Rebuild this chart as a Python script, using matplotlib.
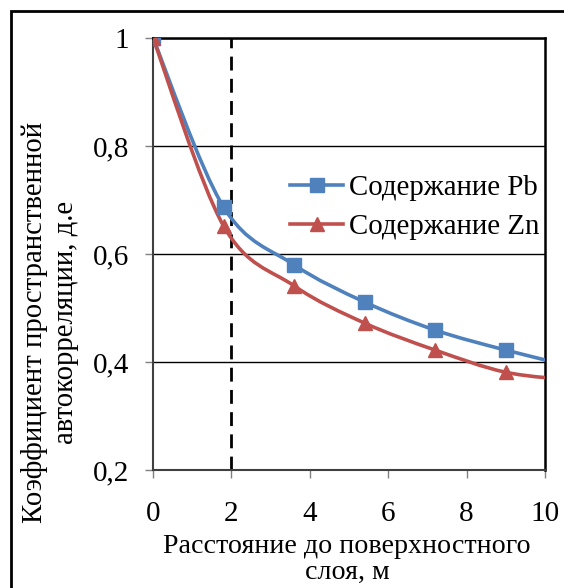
import matplotlib
matplotlib.use("Agg")
import matplotlib.pyplot as plt
from matplotlib.path import Path
from matplotlib.patches import PathPatch, Rectangle
from matplotlib.lines import Line2D
import numpy as np

plt.rcParams['font.family'] = ['Liberation Serif', 'DejaVu Serif']

# Data
distance = [0, 1.8, 3.6, 5.4, 7.2, 9.0, 10.8]
pb_values = [1.0, 0.687, 0.580, 0.511, 0.459, 0.422, 0.390]
zn_values = [1.0, 0.652, 0.541, 0.472, 0.422, 0.381, 0.366]
series_labels = ['Содержание Pb', 'Содержание Zn']
x_ticks = [0, 2, 4, 6, 8, 10]
y_ticks = [0.2, 0.4, 0.6, 0.8, 1.0]
y_tick_labels = ['0,2', '0,4', '0,6', '0,8', '1']
x_label = 'Расстояние до поверхностного\nслоя, м'
y_label = 'Коэффициент пространственной\nавтокорреляции, д.е'
dashed_x = 2

blue = '#4F81BD'
red = '#C0504D'

W, H = 564, 588
fig = plt.figure(figsize=(W / 100, H / 100), dpi=100)
# outer border
fig.patches.append(Rectangle((11 / W, -0.1), 1.2, 1 - 11 / H + 0.1,
                             transform=fig.transFigure, fill=False,
                             edgecolor='black', linewidth=2))

ax = fig.add_axes([153 / W, 1 - 470 / H, (545 - 153) / W, (470 - 38) / H])


def smooth_path(xs, ys):
    pts = np.column_stack([xs, ys]).astype(float)
    verts = [pts[0]]
    codes = [Path.MOVETO]
    n = len(pts)
    for i in range(n - 1):
        p0 = pts[i - 1] if i > 0 else pts[i]
        p1 = pts[i]
        p2 = pts[i + 1]
        p3 = pts[i + 2] if i + 2 < n else pts[i + 1]
        c1 = p1 + (p2 - p0) / 6.0
        c2 = p2 - (p3 - p1) / 6.0
        verts += [c1, c2, p2]
        codes += [Path.CURVE4] * 3
    return Path(verts, codes)


for vals, color, marker, ms in [(pb_values, blue, 's', 9.5), (zn_values, red, '^', 10)]:
    patch = PathPatch(smooth_path(distance, vals), facecolor='none',
                      edgecolor=color, linewidth=2.6, zorder=3)
    ax.add_patch(patch)
    ax.plot(distance, vals, linestyle='none', marker=marker, markersize=ms,
            color=color, zorder=4, clip_on=True)

ax.axvline(dashed_x, color='black', linestyle=(0, (5, 3)), linewidth=2, zorder=2)

ax.set_xlim(0, 10)
ax.set_ylim(0.2, 1.0)
ax.set_xticks(x_ticks)
ax.set_xticklabels([str(t) for t in x_ticks])
ax.set_yticks(y_ticks)
ax.set_yticklabels(y_tick_labels)
ax.yaxis.grid(True, color='black', linewidth=1)
ax.set_axisbelow(True)

for s in ['left', 'bottom']:
    ax.spines[s].set_color('#404040')
    ax.spines[s].set_linewidth(1.5)
for s in ['top', 'right']:
    ax.spines[s].set_color('black')
    ax.spines[s].set_linewidth(1.8)

ax.tick_params(axis='both', direction='out', length=6, width=1, color='#808080',
               labelsize=21)
ax.tick_params(axis='x', pad=16)
ax.tick_params(axis='y', pad=11)

fig.text(347 / W, 1 - 559 / H, x_label, fontsize=20.2, ha='center', va='center',
         linespacing=1.05, multialignment='center')
fig.text(50 / W, 1 - 322 / H, y_label, fontsize=20.7, ha='center', va='center',
         rotation=90, linespacing=1.25, multialignment='center')

handles = [Line2D([], [], color=blue, marker='s', markersize=9.5, linewidth=2.6),
           Line2D([], [], color=red, marker='^', markersize=10, linewidth=2.6)]
ax.legend(handles, series_labels, loc='upper left',
          bbox_to_anchor=((290 - 153) / 392, (470 - 175) / 432),
          frameon=False, fontsize=20.8, handlelength=1.85, handletextpad=0.2,
          labelspacing=0.45, borderaxespad=0, borderpad=0)

fig.savefig('out.png', dpi=100)
